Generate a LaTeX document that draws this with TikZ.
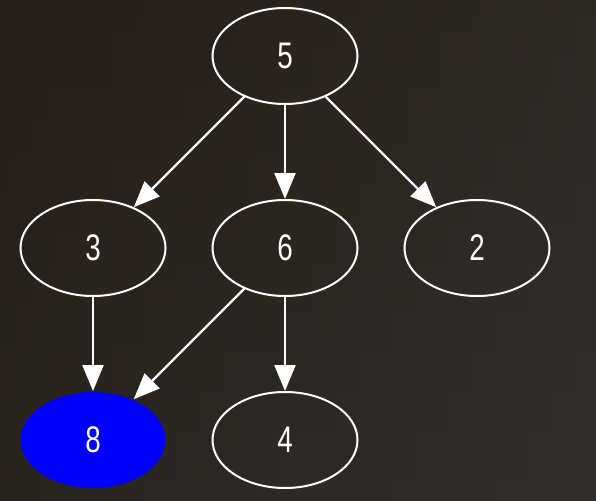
\documentclass[tikz,border=0pt]{standalone}
\usepackage{fontspec}
\setmainfont{Liberation Sans}
\usetikzlibrary{shapes.geometric,arrows.meta}
\definecolor{bgA}{RGB}{38,30,24}
\definecolor{bgB}{RGB}{56,52,48}
\definecolor{bgC}{RGB}{46,42,38}
\tikzset{
  nd/.style={ellipse,draw=white,line width=2pt,minimum width=145pt,minimum height=96pt,inner sep=0pt,
    text=white,font=\fontsize{37}{40}\selectfont},
  hl/.style={nd,draw=none,fill=blue},
  ed/.style={white,line width=2.2pt,-{Triangle[length=26pt,width=21pt]}},
}
\newcommand{\lbl}[1]{\scalebox{0.75}[1]{#1}}
\begin{document}
\begin{tikzpicture}[x=1pt,y=-1pt]
\useasboundingbox (0,0) rectangle (596,500);
\shade[left color=bgA,right color=bgB] (0,0) rectangle (596,500);
\shade[top color=bgA,bottom color=bgC,opacity=0.5] (0,0) rectangle (596,500);
\node[nd] (n5) at (285,56) {\lbl{5}};
\node[nd] (n3) at (93,248) {\lbl{3}};
\node[nd] (n6) at (285,248) {\lbl{6}};
\node[nd] (n2) at (477,248) {\lbl{2}};
\node[hl] (n8) at (93,440) {\lbl{8}};
\node[nd] (n4) at (285,440) {\lbl{4}};
\draw[ed] (n5) -- (n3);
\draw[ed] (n5) -- (n6);
\draw[ed] (n5) -- (n2);
\draw[ed] (n3) -- (n8);
\draw[ed] (n6) -- (n8);
\draw[ed] (n6) -- (n4);
\end{tikzpicture}
\end{document}
